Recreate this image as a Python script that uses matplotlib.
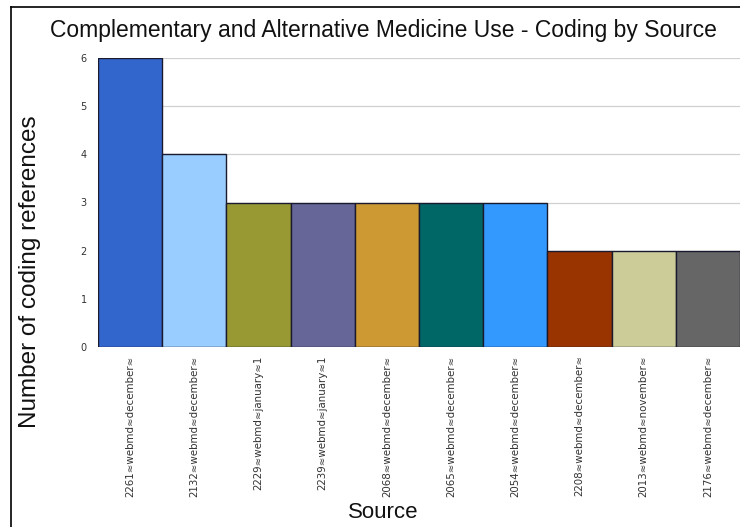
import matplotlib
matplotlib.use("Agg")
import matplotlib.pyplot as plt
from matplotlib.lines import Line2D

# ---------------- Data ----------------
sources = [
    "2261\u2248webmd\u2248december\u2248",
    "2132\u2248webmd\u2248december\u2248",
    "2229\u2248webmd\u2248january\u22481",
    "2239\u2248webmd\u2248january\u22481",
    "2068\u2248webmd\u2248december\u2248",
    "2065\u2248webmd\u2248december\u2248",
    "2054\u2248webmd\u2248december\u2248",
    "2208\u2248webmd\u2248december\u2248",
    "2013\u2248webmd\u2248november\u2248",
    "2176\u2248webmd\u2248december\u2248",
]
references = [6, 4, 3, 3, 3, 3, 3, 2, 2, 2]
bar_colors = ["#3366CC", "#99CCFF", "#999933", "#666699", "#CC9933",
              "#006666", "#3399FF", "#993300", "#CCCC99", "#666666"]
y_ticks = [0, 1, 2, 3, 4, 5, 6]

plt.rcParams["font.family"] = ["Liberation Sans", "DejaVu Sans"]

fig = plt.figure(figsize=(7.4, 5.27), dpi=100, facecolor="white")
ax = fig.add_axes([98 / 740, 1 - 347 / 527, 642 / 740, 289 / 527])

positions = list(range(len(sources)))
ax.bar(positions, references, width=1.0, color=bar_colors,
       edgecolor="#1a1a2e", linewidth=1.0, zorder=3)

ax.set_xlim(-0.5, len(sources) - 0.5)
ax.set_ylim(0, 6)
ax.set_yticks(y_ticks)
ax.set_yticklabels([str(t) for t in y_ticks], fontsize=7,
                   family=["DejaVu Sans"], color="#333333")
ax.yaxis.grid(True, color="#d0d0d0", linewidth=0.9, zorder=0)
ax.tick_params(axis="y", length=0, pad=8)
ax.tick_params(axis="x", length=0, pad=6)
ax.set_xticks(positions)
ax.set_xticklabels(sources, rotation=90, fontsize=7.4, va="top",
                   family=["DejaVu Sans"], color="#333333")
for side in ["top", "right", "left", "bottom"]:
    ax.spines[side].set_visible(False)

fig.text(383 / 740, 1 - 30 / 527,
         "Complementary and Alternative Medicine Use - Coding by Source",
         ha="center", va="center", fontsize=16.5, color="#111111")
fig.text(30 / 740, 1 - 272 / 527, "Number of coding references",
         rotation=90, ha="center", va="center", fontsize=17.5, color="#111111")
fig.text(383 / 740, 1 - 513 / 527, "Source",
         ha="center", va="center", fontsize=16, color="#111111")

# frame lines along the left and top edges
fig.add_artist(Line2D([11 / 740, 11 / 740], [0, 1 - 7 / 527],
                      transform=fig.transFigure, color="black", linewidth=1.2))
fig.add_artist(Line2D([11 / 740, 1], [1 - 7 / 527, 1 - 7 / 527],
                      transform=fig.transFigure, color="black", linewidth=1.2))

fig.savefig("out.png", dpi=100)
